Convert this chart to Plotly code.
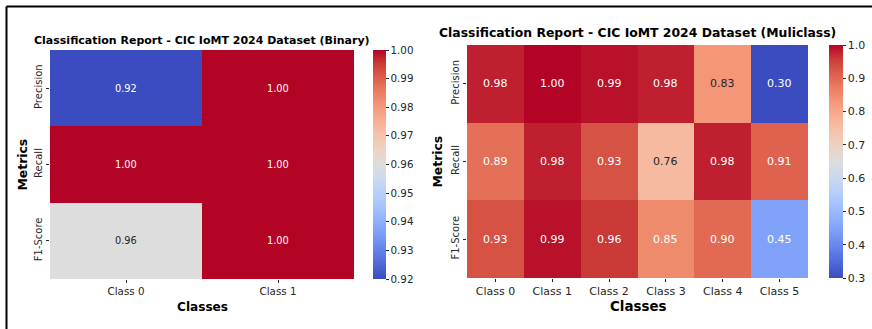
import plotly.graph_objects as go

# ---- data -------------------------------------------------------------
metrics = ["Precision", "Recall", "F1-Score"]

binary_classes = ["Class 0", "Class 1"]
binary_precision = [0.92, 1.00]
binary_recall = [1.00, 1.00]
binary_f1 = [0.96, 1.00]

multi_classes = ["Class 0", "Class 1", "Class 2", "Class 3", "Class 4", "Class 5"]
multi_precision = [0.98, 1.00, 0.99, 0.98, 0.83, 0.30]
multi_recall = [0.89, 0.98, 0.93, 0.76, 0.98, 0.91]
multi_f1 = [0.93, 0.99, 0.96, 0.85, 0.90, 0.45]

binary_ticks = [0.92, 0.93, 0.94, 0.95, 0.96, 0.97, 0.98, 0.99, 1.00]
multi_ticks = [0.3, 0.4, 0.5, 0.6, 0.7, 0.8, 0.9, 1.0]

# ---- coolwarm colour map ----------------------------------------------
COOLWARM = [
    (0.0, (59, 76, 192)), (0.0625, (77, 104, 215)), (0.125, (98, 130, 234)),
    (0.1875, (119, 154, 246)), (0.25, (141, 176, 254)), (0.3125, (163, 194, 254)),
    (0.375, (184, 208, 249)), (0.4375, (204, 217, 238)), (0.5, (221, 221, 221)),
    (0.5625, (236, 211, 197)), (0.625, (245, 196, 173)), (0.6875, (247, 177, 149)),
    (0.75, (244, 154, 123)), (0.8125, (236, 127, 99)), (0.875, (222, 96, 77)),
    (0.9375, (203, 62, 56)), (1.0, (180, 4, 38)),
]
colorscale = [[p, "rgb(%d,%d,%d)" % c] for p, c in COOLWARM]


def cmap(t):
    t = min(max(t, 0.0), 1.0)
    for (p0, c0), (p1, c1) in zip(COOLWARM[:-1], COOLWARM[1:]):
        if p0 <= t <= p1:
            f = (t - p0) / (p1 - p0) if p1 > p0 else 0
            return tuple(a + (b - a) * f for a, b in zip(c0, c1))
    return COOLWARM[-1][1]


def text_color(v, vmin, vmax):
    rgb = cmap((v - vmin) / (vmax - vmin) if vmax > vmin else 1.0)

    def lin(c):
        c = c / 255.0
        return c / 12.92 if c <= 0.03928 else ((c + 0.055) / 1.055) ** 2.4

    lum = 0.2126 * lin(rgb[0]) + 0.7152 * lin(rgb[1]) + 0.0722 * lin(rgb[2])
    return "#262626" if lum > 0.408 else "white"


W, H = 872, 329
FONT = "DejaVu Sans"
DARK = "#262626"


def px(x):
    return x / W


def py(y):
    return 1 - y / H


fig = go.Figure()
annotations = []

panels = [
    dict(classes=binary_classes, z=[binary_precision, binary_recall, binary_f1],
         ticks=binary_ticks, fmt=".2f", xa="x", ya="y",
         box=(50, 354, 50, 279), cbar=(373, 13), tick_fs=10.3, val_fs=9.8,
         cb_fs=10.3, title="Classification Report - CIC IoMT 2024 Dataset (Binary)",
         title_fs=11, title_y=40, xlab_y=307, xlab_fs=12.1, ylab_x=22),
    dict(classes=multi_classes, z=[multi_precision, multi_recall, multi_f1],
         ticks=multi_ticks, fmt=".1f", xa="x2", ya="y2",
         box=(467, 808, 45, 278), cbar=(829, 14), tick_fs=11, val_fs=11,
         cb_fs=11, title="Classification Report - CIC IoMT 2024 Dataset (Muliclass)",
         title_fs=12.4, title_y=33, xlab_y=306, xlab_fs=13.4, ylab_x=437),
]

for i, p in enumerate(panels):
    z = p["z"]
    flat = [v for row in z for v in row]
    vmin, vmax = min(flat), max(flat)
    x0, x1, y0, y1 = p["box"]
    fig.add_trace(go.Heatmap(
        z=z, x=p["classes"], y=metrics, xaxis=p["xa"], yaxis=p["ya"],
        colorscale=colorscale, zmin=vmin, zmax=vmax, hoverinfo="skip",
        colorbar=dict(
            xref="paper", x=px(p["cbar"][0]), xanchor="left", xpad=0,
            yref="paper", y=py(y0), yanchor="top", ypad=0,
            len=y1 - y0, lenmode="pixels",
            thickness=p["cbar"][1], thicknessmode="pixels",
            outlinewidth=0, ticks="outside", ticklen=3, tickcolor=DARK,
            tickvals=p["ticks"], tickformat=p["fmt"],
            tickfont=dict(family=FONT, size=p["cb_fs"], color=DARK),
        ),
    ))
    # cell values
    for r, m in enumerate(metrics):
        for c, cl in enumerate(p["classes"]):
            v = z[r][c]
            annotations.append(dict(
                x=cl, y=m, xref=p["xa"], yref=p["ya"], text=f"{v:.2f}",
                showarrow=False,
                font=dict(family=FONT, size=p["val_fs"], color=text_color(v, vmin, vmax)),
            ))
    # panel title
    annotations.append(dict(
        x=px((x0 + x1) / 2), y=py(p["title_y"]), xref="paper", yref="paper",
        text="<b>%s</b>" % p["title"], showarrow=False, xanchor="center", yanchor="middle",
        font=dict(family=FONT, size=p["title_fs"], color="black"),
    ))
    # axis titles
    annotations.append(dict(
        x=px((x0 + x1) / 2), y=py(p["xlab_y"]), xref="paper", yref="paper",
        text="<b>Classes</b>", showarrow=False, xanchor="center", yanchor="middle",
        font=dict(family=FONT, size=p["xlab_fs"], color="black"),
    ))
    annotations.append(dict(
        x=px(p["ylab_x"]), y=py((y0 + y1) / 2), xref="paper", yref="paper",
        text="<b>Metrics</b>", showarrow=False, textangle=-90,
        xanchor="center", yanchor="middle",
        font=dict(family=FONT, size=12.4, color="black"),
    ))
    axis_common = dict(ticks="outside", ticklen=3, tickcolor=DARK, showgrid=False,
                       zeroline=False, showline=False, fixedrange=True,
                       tickfont=dict(family=FONT, size=p["tick_fs"], color=DARK))
    xkey = "xaxis" if i == 0 else "xaxis2"
    ykey = "yaxis" if i == 0 else "yaxis2"
    fig.update_layout(**{
        xkey: dict(domain=[px(x0), px(x1)], anchor=p["ya"], **axis_common),
        ykey: dict(domain=[py(y1), py(y0)], anchor=p["xa"], autorange="reversed",
                   tickangle=-90, **dict(axis_common, tickfont=dict(
                       family=FONT, size=10.0, color=DARK))),
    })

# outer frame (top and left edges)
shapes = [
    dict(type="line", xref="paper", yref="paper", x0=px(6.5), x1=1.0,
         y0=py(6.5), y1=py(6.5), line=dict(color="black", width=2)),
    dict(type="line", xref="paper", yref="paper", x0=px(6.5), x1=px(6.5),
         y0=py(6.5), y1=0.0, line=dict(color="black", width=2)),
]

fig.update_layout(
    width=W, height=H, margin=dict(l=0, r=0, t=0, b=0),
    paper_bgcolor="white", plot_bgcolor="white",
    annotations=annotations, shapes=shapes, showlegend=False,
    font=dict(family=FONT),
)

fig.write_html("out.html")
